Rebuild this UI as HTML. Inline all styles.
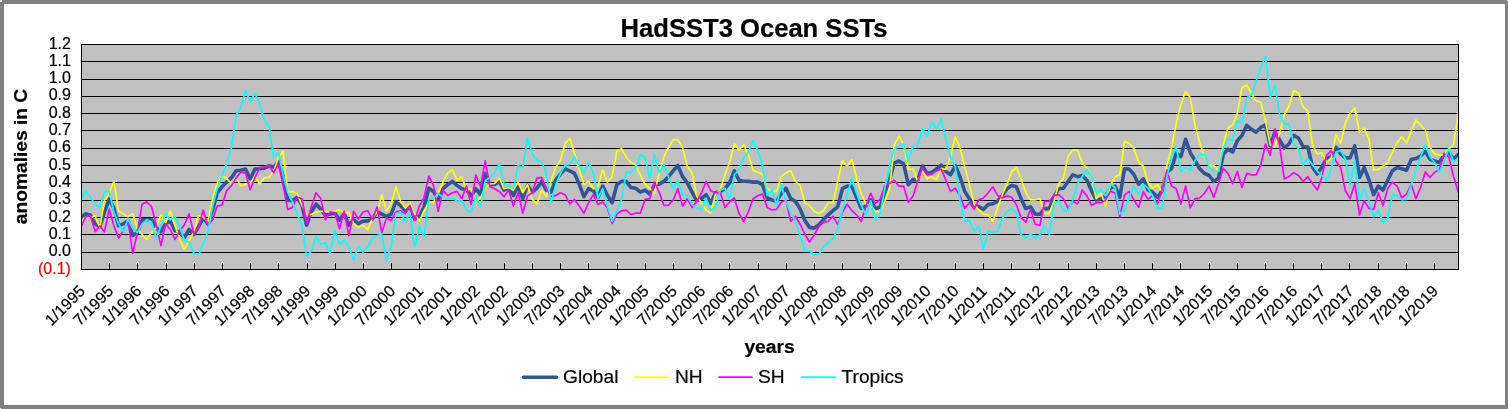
<!DOCTYPE html>
<html><head><meta charset="utf-8"><title>HadSST3 Ocean SSTs</title>
<style>
html,body{margin:0;padding:0;background:#fff;}
body{width:1508px;height:409px;overflow:hidden;position:relative;}
svg{position:absolute;left:0;top:0;display:block;}
text{font-family:"Liberation Sans",sans-serif;fill:#000;stroke:#000;stroke-width:0.22px;paint-order:stroke;}
.b{font-weight:bold;}
</style></head><body>
<svg width="1508" height="409" viewBox="0 0 1508 409">

<rect x="0" y="0" width="1508" height="409" fill="#808080"/>
<rect x="4" y="4" width="1501" height="401" fill="#fff"/>
<rect x="0" y="0" width="2" height="2" fill="#fff"/><rect x="1507" y="0" width="1" height="1" fill="#fff"/><rect x="0" y="408" width="1" height="1" fill="#fff"/>
<rect x="81" y="44" width="1378" height="226" fill="#c0c0c0"/>
<line x1="81" y1="61.5" x2="1459" y2="61.5" stroke="#000" stroke-width="1"/>
<line x1="81" y1="79.5" x2="1459" y2="79.5" stroke="#000" stroke-width="1"/>
<line x1="81" y1="96.5" x2="1459" y2="96.5" stroke="#000" stroke-width="1"/>
<line x1="81" y1="113.5" x2="1459" y2="113.5" stroke="#000" stroke-width="1"/>
<line x1="81" y1="130.5" x2="1459" y2="130.5" stroke="#000" stroke-width="1"/>
<line x1="81" y1="148.5" x2="1459" y2="148.5" stroke="#000" stroke-width="1"/>
<line x1="81" y1="165.5" x2="1459" y2="165.5" stroke="#000" stroke-width="1"/>
<line x1="81" y1="182.5" x2="1459" y2="182.5" stroke="#000" stroke-width="1"/>
<line x1="81" y1="200.5" x2="1459" y2="200.5" stroke="#000" stroke-width="1"/>
<line x1="81" y1="217.5" x2="1459" y2="217.5" stroke="#000" stroke-width="1"/>
<line x1="81" y1="234.5" x2="1459" y2="234.5" stroke="#000" stroke-width="1"/>
<line x1="81" y1="252.5" x2="1459" y2="252.5" stroke="#000" stroke-width="1"/>
<line x1="81.5" y1="263" x2="81.5" y2="269" stroke="#000" stroke-width="1"/>
<line x1="109.5" y1="263" x2="109.5" y2="269" stroke="#000" stroke-width="1"/>
<line x1="137.5" y1="263" x2="137.5" y2="269" stroke="#000" stroke-width="1"/>
<line x1="166.5" y1="263" x2="166.5" y2="269" stroke="#000" stroke-width="1"/>
<line x1="194.5" y1="263" x2="194.5" y2="269" stroke="#000" stroke-width="1"/>
<line x1="222.5" y1="263" x2="222.5" y2="269" stroke="#000" stroke-width="1"/>
<line x1="250.5" y1="263" x2="250.5" y2="269" stroke="#000" stroke-width="1"/>
<line x1="278.5" y1="263" x2="278.5" y2="269" stroke="#000" stroke-width="1"/>
<line x1="307.5" y1="263" x2="307.5" y2="269" stroke="#000" stroke-width="1"/>
<line x1="335.5" y1="263" x2="335.5" y2="269" stroke="#000" stroke-width="1"/>
<line x1="363.5" y1="263" x2="363.5" y2="269" stroke="#000" stroke-width="1"/>
<line x1="391.5" y1="263" x2="391.5" y2="269" stroke="#000" stroke-width="1"/>
<line x1="419.5" y1="263" x2="419.5" y2="269" stroke="#000" stroke-width="1"/>
<line x1="447.5" y1="263" x2="447.5" y2="269" stroke="#000" stroke-width="1"/>
<line x1="476.5" y1="263" x2="476.5" y2="269" stroke="#000" stroke-width="1"/>
<line x1="504.5" y1="263" x2="504.5" y2="269" stroke="#000" stroke-width="1"/>
<line x1="532.5" y1="263" x2="532.5" y2="269" stroke="#000" stroke-width="1"/>
<line x1="560.5" y1="263" x2="560.5" y2="269" stroke="#000" stroke-width="1"/>
<line x1="588.5" y1="263" x2="588.5" y2="269" stroke="#000" stroke-width="1"/>
<line x1="617.5" y1="263" x2="617.5" y2="269" stroke="#000" stroke-width="1"/>
<line x1="645.5" y1="263" x2="645.5" y2="269" stroke="#000" stroke-width="1"/>
<line x1="673.5" y1="263" x2="673.5" y2="269" stroke="#000" stroke-width="1"/>
<line x1="701.5" y1="263" x2="701.5" y2="269" stroke="#000" stroke-width="1"/>
<line x1="729.5" y1="263" x2="729.5" y2="269" stroke="#000" stroke-width="1"/>
<line x1="758.5" y1="263" x2="758.5" y2="269" stroke="#000" stroke-width="1"/>
<line x1="786.5" y1="263" x2="786.5" y2="269" stroke="#000" stroke-width="1"/>
<line x1="814.5" y1="263" x2="814.5" y2="269" stroke="#000" stroke-width="1"/>
<line x1="842.5" y1="263" x2="842.5" y2="269" stroke="#000" stroke-width="1"/>
<line x1="870.5" y1="263" x2="870.5" y2="269" stroke="#000" stroke-width="1"/>
<line x1="898.5" y1="263" x2="898.5" y2="269" stroke="#000" stroke-width="1"/>
<line x1="927.5" y1="263" x2="927.5" y2="269" stroke="#000" stroke-width="1"/>
<line x1="955.5" y1="263" x2="955.5" y2="269" stroke="#000" stroke-width="1"/>
<line x1="983.5" y1="263" x2="983.5" y2="269" stroke="#000" stroke-width="1"/>
<line x1="1011.5" y1="263" x2="1011.5" y2="269" stroke="#000" stroke-width="1"/>
<line x1="1039.5" y1="263" x2="1039.5" y2="269" stroke="#000" stroke-width="1"/>
<line x1="1068.5" y1="263" x2="1068.5" y2="269" stroke="#000" stroke-width="1"/>
<line x1="1096.5" y1="263" x2="1096.5" y2="269" stroke="#000" stroke-width="1"/>
<line x1="1124.5" y1="263" x2="1124.5" y2="269" stroke="#000" stroke-width="1"/>
<line x1="1152.5" y1="263" x2="1152.5" y2="269" stroke="#000" stroke-width="1"/>
<line x1="1180.5" y1="263" x2="1180.5" y2="269" stroke="#000" stroke-width="1"/>
<line x1="1209.5" y1="263" x2="1209.5" y2="269" stroke="#000" stroke-width="1"/>
<line x1="1237.5" y1="263" x2="1237.5" y2="269" stroke="#000" stroke-width="1"/>
<line x1="1265.5" y1="263" x2="1265.5" y2="269" stroke="#000" stroke-width="1"/>
<line x1="1293.5" y1="263" x2="1293.5" y2="269" stroke="#000" stroke-width="1"/>
<line x1="1321.5" y1="263" x2="1321.5" y2="269" stroke="#000" stroke-width="1"/>
<line x1="1349.5" y1="263" x2="1349.5" y2="269" stroke="#000" stroke-width="1"/>
<line x1="1378.5" y1="263" x2="1378.5" y2="269" stroke="#000" stroke-width="1"/>
<line x1="1406.5" y1="263" x2="1406.5" y2="269" stroke="#000" stroke-width="1"/>
<line x1="1434.5" y1="263" x2="1434.5" y2="269" stroke="#000" stroke-width="1"/>
<defs><clipPath id="pc"><rect x="81.5" y="44.5" width="1377" height="225"/></clipPath></defs><g clip-path="url(#pc)">
<polyline points="81.0,217.9 85.7,213.9 90.4,215.0 95.1,223.8 99.8,226.7 104.5,212.0 109.2,199.2 113.9,208.1 118.6,225.7 123.3,223.8 128.0,220.9 132.7,235.4 137.4,232.5 142.1,219.8 146.8,219.5 151.5,219.8 156.2,227.6 160.9,231.6 165.6,223.8 170.3,220.9 175.0,230.6 179.7,232.5 184.4,237.5 189.1,229.5 193.8,234.5 198.5,226.7 203.2,217.9 207.9,223.8 212.6,210.0 217.3,192.5 222.0,186.8 226.7,181.9 231.4,177.9 236.1,170.8 240.8,170.2 245.5,169.1 250.2,179.0 254.9,169.1 259.6,168.8 264.3,168.2 269.0,165.8 273.7,167.2 278.4,161.3 283.1,176.0 287.8,200.1 292.5,200.6 297.2,197.2 301.9,205.1 306.6,225.2 311.3,212.0 316.0,204.1 320.7,209.1 325.4,215.2 330.1,214.1 334.8,213.1 339.5,220.2 344.2,213.6 348.9,225.2 353.6,219.7 358.3,223.6 363.0,221.2 367.7,220.9 372.4,219.1 377.1,211.5 381.8,214.1 386.5,216.5 391.2,214.1 395.9,201.7 400.6,205.6 405.3,210.7 410.0,206.2 414.7,219.1 419.4,216.2 424.1,206.7 428.8,188.2 433.5,191.4 438.2,199.9 442.9,188.7 447.6,184.7 452.3,181.4 457.0,185.4 461.7,188.7 466.4,189.4 471.1,195.9 475.8,188.7 480.5,194.7 485.2,173.4 489.9,184.7 494.6,184.5 499.3,181.4 504.0,190.1 508.7,188.2 513.4,195.4 518.1,186.1 522.8,198.7 527.5,185.4 532.2,192.1 536.9,188.2 541.6,181.4 546.3,190.1 551.0,192.1 555.7,180.2 560.4,174.1 565.1,168.8 569.8,170.8 574.5,173.4 579.2,184.2 583.9,196.6 588.6,188.7 593.3,190.8 598.0,197.3 602.7,186.1 607.4,195.4 612.1,202.7 616.8,184.7 621.5,181.4 626.2,181.4 630.9,187.5 635.6,188.2 640.3,192.1 645.0,190.1 649.7,194.0 654.4,184.7 659.1,184.2 663.8,181.4 668.5,176.7 673.2,170.8 677.9,165.5 682.6,176.7 687.3,182.8 692.0,192.1 696.7,200.6 701.4,198.7 706.1,194.7 710.8,203.4 715.5,192.7 720.2,191.4 724.9,188.7 729.6,182.8 734.3,170.8 739.0,180.2 743.7,181.2 748.4,181.4 753.1,182.1 757.8,182.1 762.5,184.7 767.2,198.0 771.9,199.9 776.6,201.3 781.3,193.3 786.0,188.2 790.7,198.7 795.4,201.3 800.1,208.9 804.8,220.2 809.5,227.4 814.2,228.1 818.9,224.7 823.6,219.5 828.3,214.8 833.0,210.5 837.7,206.8 842.4,188.7 847.1,186.1 851.8,186.1 856.5,197.3 861.2,208.4 866.0,206.0 870.7,199.9 875.4,208.9 880.1,206.8 884.8,192.1 889.5,180.2 894.2,163.1 898.9,161.0 903.6,163.9 908.3,184.7 913.0,179.5 917.7,180.2 922.4,166.0 927.1,173.4 931.8,172.2 936.5,169.1 941.2,165.1 945.9,171.5 950.6,174.8 955.3,165.7 960.0,176.7 964.7,191.4 969.4,198.7 974.1,205.3 978.8,206.7 983.5,209.3 988.2,204.6 992.9,203.7 997.6,201.3 1002.3,195.4 1007.0,188.7 1011.7,185.4 1016.4,186.8 1021.1,198.7 1025.8,208.6 1030.5,206.7 1035.2,214.1 1039.9,214.3 1044.6,208.6 1049.3,208.6 1054.0,196.6 1058.7,188.7 1063.4,188.2 1068.1,181.4 1072.8,174.8 1077.5,176.7 1082.2,175.5 1086.9,180.2 1091.6,190.8 1096.3,199.9 1101.0,198.7 1105.7,195.9 1110.4,188.2 1115.1,186.1 1119.8,197.3 1124.5,168.8 1129.2,169.1 1133.9,174.5 1138.6,184.2 1143.3,178.8 1148.0,190.1 1152.7,192.1 1157.4,197.3 1162.1,190.8 1166.8,172.2 1171.5,168.8 1176.2,153.2 1180.9,156.7 1185.6,139.3 1190.3,152.7 1195.0,160.5 1199.7,168.8 1204.4,173.4 1209.1,175.5 1213.8,181.4 1218.5,178.1 1223.2,154.6 1227.9,149.2 1232.6,152.0 1237.3,140.7 1242.0,135.4 1246.7,125.3 1251.4,129.3 1256.1,132.1 1260.8,127.4 1265.5,124.8 1270.2,145.9 1274.9,132.1 1279.6,140.0 1284.3,148.0 1289.0,144.0 1293.7,135.4 1298.4,138.0 1303.1,146.6 1307.8,147.0 1312.5,167.0 1317.2,174.1 1321.9,166.9 1326.6,158.6 1331.3,156.7 1336.0,147.3 1340.7,153.9 1345.4,157.9 1350.1,157.9 1354.8,145.9 1359.5,177.4 1364.2,167.6 1368.9,179.5 1373.6,194.7 1378.3,186.1 1383.0,190.1 1387.7,180.2 1392.4,170.8 1397.1,167.6 1401.8,168.8 1406.5,170.2 1411.2,159.6 1415.9,158.6 1420.6,156.0 1425.3,151.3 1430.0,159.2 1434.7,161.0 1439.4,162.4 1444.1,154.6 1448.8,152.0 1453.5,159.2 1458.2,154.6" fill="none" stroke="#305699" stroke-width="3.6" stroke-linejoin="round" stroke-linecap="round"/>
<polyline points="81.0,220.9 85.7,216.9 90.4,217.9 95.1,215.8 99.8,227.6 104.5,200.3 109.2,193.3 113.9,181.2 118.6,211.0 123.3,213.9 128.0,216.9 132.7,213.6 137.4,228.7 142.1,234.5 146.8,239.4 151.5,232.5 156.2,227.6 160.9,215.0 165.6,222.8 170.3,211.0 175.0,225.7 179.7,239.4 184.4,249.1 189.1,240.4 193.8,232.5 198.5,215.8 203.2,216.9 207.9,221.7 212.6,198.5 217.3,183.0 222.0,176.0 226.7,178.6 231.4,183.8 236.1,177.9 240.8,185.7 245.5,184.5 250.2,183.0 254.9,177.1 259.6,183.8 264.3,177.9 269.0,177.4 273.7,171.2 278.4,157.5 283.1,151.1 287.8,192.0 292.5,191.6 297.2,193.5 301.9,205.1 306.6,214.1 311.3,214.6 316.0,212.0 320.7,211.3 325.4,211.3 330.1,212.0 334.8,211.3 339.5,209.6 344.2,212.6 348.9,212.6 353.6,223.6 358.3,227.6 363.0,225.2 367.7,229.7 372.4,218.6 377.1,212.0 381.8,195.1 386.5,211.3 391.2,204.1 395.9,186.8 400.6,201.1 405.3,208.1 410.0,203.0 414.7,214.1 419.4,221.0 424.1,210.7 428.8,202.3 433.5,202.3 438.2,193.3 442.9,182.1 447.6,173.4 452.3,169.3 457.0,180.2 461.7,176.7 466.4,190.1 471.1,188.7 475.8,202.0 480.5,197.3 485.2,188.7 489.9,183.8 494.6,183.5 499.3,178.1 504.0,188.7 508.7,187.5 513.4,190.1 518.1,182.1 522.8,192.7 527.5,184.7 532.2,199.4 536.9,203.9 541.6,190.1 546.3,196.6 551.0,181.4 555.7,166.9 560.4,160.5 565.1,143.3 569.8,138.5 574.5,153.2 579.2,169.5 583.9,184.2 588.6,181.4 593.3,188.7 598.0,186.1 602.7,169.5 607.4,182.1 612.1,176.7 616.8,151.3 621.5,148.7 626.2,157.2 630.9,162.5 635.6,164.8 640.3,174.8 645.0,184.2 649.7,188.2 654.4,193.3 659.1,173.4 663.8,157.2 668.5,147.3 673.2,139.7 677.9,139.7 682.6,148.0 687.3,166.2 692.0,172.7 696.7,195.9 701.4,202.7 706.1,210.0 710.8,213.2 715.5,194.0 720.2,189.4 724.9,174.8 729.6,162.5 734.3,143.7 739.0,149.9 743.7,144.7 748.4,155.3 753.1,170.2 757.8,172.2 762.5,174.1 767.2,188.2 771.9,191.4 776.6,191.4 781.3,176.7 786.0,172.7 790.7,170.5 795.4,181.4 800.1,185.4 804.8,202.7 809.5,205.5 814.2,211.3 818.9,213.8 823.6,210.5 828.3,202.7 833.0,202.7 837.7,181.4 842.4,160.8 847.1,166.2 851.8,159.6 856.5,177.4 861.2,193.3 866.0,203.9 870.7,205.5 875.4,211.2 880.1,212.2 884.8,201.3 889.5,189.4 894.2,145.2 898.9,136.1 903.6,144.7 908.3,169.5 913.0,168.8 917.7,181.4 922.4,170.8 927.1,178.8 931.8,176.7 936.5,179.5 941.2,168.4 945.9,169.5 950.6,156.0 955.3,136.8 960.0,147.3 964.7,166.7 969.4,184.2 974.1,203.9 978.8,210.0 983.5,214.1 988.2,214.8 992.9,221.4 997.6,207.7 1002.3,194.7 1007.0,184.2 1011.7,171.5 1016.4,167.6 1021.1,178.8 1025.8,192.7 1030.5,199.9 1035.2,199.9 1039.9,198.7 1044.6,213.4 1049.3,213.4 1054.0,201.3 1058.7,183.5 1063.4,178.8 1068.1,156.0 1072.8,149.9 1077.5,149.9 1082.2,162.9 1086.9,168.2 1091.6,178.1 1096.3,198.7 1101.0,193.3 1105.7,206.0 1110.4,184.7 1115.1,176.7 1119.8,174.8 1124.5,141.4 1129.2,143.3 1133.9,148.7 1138.6,162.0 1143.3,166.2 1148.0,182.8 1152.7,188.2 1157.4,184.7 1162.1,191.4 1166.8,165.7 1171.5,148.0 1176.2,123.4 1180.9,104.2 1185.6,91.4 1190.3,97.8 1195.0,124.8 1199.7,142.6 1204.4,157.2 1209.1,165.7 1213.8,165.7 1218.5,170.8 1223.2,145.2 1227.9,128.1 1232.6,124.8 1237.3,113.7 1242.0,87.4 1246.7,85.2 1251.4,93.3 1256.1,100.9 1260.8,102.3 1265.5,121.3 1270.2,144.7 1274.9,147.3 1279.6,133.3 1284.3,114.8 1289.0,105.9 1293.7,90.5 1298.4,93.0 1303.1,106.8 1307.8,111.1 1312.5,144.7 1317.2,153.9 1321.9,152.7 1326.6,161.8 1331.3,157.9 1336.0,134.7 1340.7,143.3 1345.4,122.7 1350.1,113.7 1354.8,107.7 1359.5,132.1 1364.2,128.1 1368.9,138.7 1373.6,170.2 1378.3,169.5 1383.0,166.0 1387.7,162.4 1392.4,152.7 1397.1,142.6 1401.8,136.8 1406.5,143.3 1411.2,131.4 1415.9,120.1 1420.6,124.8 1425.3,130.0 1430.0,147.3 1434.7,153.9 1439.4,155.3 1444.1,154.6 1448.8,148.7 1453.5,145.2 1458.2,113.7" fill="none" stroke="#ffff00" stroke-width="1.7" stroke-linejoin="round" stroke-linecap="round"/>
<polyline points="81.0,226.7 85.7,216.9 90.4,215.5 95.1,231.6 99.8,225.7 104.5,231.9 109.2,209.1 113.9,225.7 118.6,238.0 123.3,230.6 128.0,219.8 132.7,253.4 137.4,232.5 142.1,204.2 146.8,201.8 151.5,206.5 156.2,224.7 160.9,245.6 165.6,223.8 170.3,229.5 175.0,239.4 179.7,230.6 184.4,224.7 189.1,213.9 193.8,233.8 198.5,227.6 203.2,210.0 207.9,225.7 212.6,219.8 217.3,205.8 222.0,205.1 226.7,190.6 231.4,185.7 236.1,177.9 240.8,172.1 245.5,173.1 250.2,189.7 254.9,177.9 259.6,167.6 264.3,167.2 269.0,165.8 273.7,172.7 278.4,163.2 283.1,185.7 287.8,209.6 292.5,207.2 297.2,197.2 301.9,198.5 306.6,223.6 311.3,206.7 316.0,192.8 320.7,198.5 325.4,219.7 330.1,211.9 334.8,212.6 339.5,228.7 344.2,211.3 348.9,235.9 353.6,211.3 358.3,219.1 363.0,212.0 367.7,210.7 372.4,219.7 377.1,206.7 381.8,232.5 386.5,218.1 391.2,220.7 395.9,212.0 400.6,210.7 405.3,213.6 410.0,205.5 414.7,220.2 419.4,206.0 424.1,197.3 428.8,176.0 433.5,185.4 438.2,211.3 442.9,190.1 447.6,195.4 452.3,192.7 457.0,191.4 461.7,198.7 466.4,186.1 471.1,204.6 475.8,174.8 480.5,186.8 485.2,160.8 489.9,186.8 494.6,188.7 499.3,191.4 504.0,196.6 508.7,190.1 513.4,206.0 518.1,192.7 522.8,213.2 527.5,195.9 532.2,192.7 536.9,178.1 541.6,177.4 546.3,188.7 551.0,196.6 555.7,195.4 560.4,192.7 565.1,194.7 569.8,203.9 574.5,199.4 579.2,206.0 583.9,213.4 588.6,202.7 593.3,194.7 598.0,204.6 602.7,202.0 607.4,207.9 612.1,223.5 616.8,214.1 621.5,210.8 626.2,210.1 630.9,214.5 635.6,213.2 640.3,213.2 645.0,199.4 649.7,198.7 654.4,182.1 659.1,192.1 663.8,205.3 668.5,205.1 673.2,199.9 677.9,188.7 682.6,206.0 687.3,198.7 692.0,207.4 696.7,201.3 701.4,193.3 706.1,181.4 710.8,190.8 715.5,192.7 720.2,192.1 724.9,207.4 729.6,202.0 734.3,198.0 739.0,213.4 743.7,221.6 748.4,211.5 753.1,198.7 757.8,195.8 762.5,194.0 767.2,207.4 771.9,210.0 776.6,209.3 781.3,202.0 786.0,200.3 790.7,221.4 795.4,216.2 800.1,224.2 804.8,234.0 809.5,242.0 814.2,234.7 818.9,226.7 823.6,222.1 828.3,221.4 833.0,216.2 837.7,224.7 842.4,212.2 847.1,204.1 851.8,210.5 856.5,214.8 861.2,221.4 866.0,206.0 870.7,193.3 875.4,203.4 880.1,199.4 884.8,185.4 889.5,183.5 894.2,180.2 898.9,186.1 903.6,186.1 908.3,202.3 913.0,195.9 917.7,181.4 922.4,168.2 927.1,174.8 931.8,174.1 936.5,170.8 941.2,169.1 945.9,180.2 950.6,191.4 955.3,188.2 960.0,195.9 964.7,208.1 969.4,202.7 974.1,209.3 978.8,199.9 983.5,198.0 988.2,192.7 992.9,186.8 997.6,195.4 1002.3,198.0 1007.0,195.9 1011.7,197.3 1016.4,204.8 1021.1,217.6 1025.8,222.1 1030.5,209.3 1035.2,224.2 1039.9,225.4 1044.6,201.3 1049.3,201.3 1054.0,195.4 1058.7,194.7 1063.4,198.7 1068.1,208.4 1072.8,201.3 1077.5,203.9 1082.2,190.1 1086.9,195.9 1091.6,205.3 1096.3,202.7 1101.0,202.7 1105.7,199.9 1110.4,191.4 1115.1,192.7 1119.8,216.7 1124.5,195.1 1129.2,191.4 1133.9,199.8 1138.6,207.4 1143.3,191.4 1148.0,199.4 1152.7,195.4 1157.4,203.9 1162.1,190.1 1166.8,170.2 1171.5,186.1 1176.2,188.7 1180.9,203.9 1185.6,186.1 1190.3,207.9 1195.0,198.7 1199.7,198.0 1204.4,193.3 1209.1,186.1 1213.8,197.3 1218.5,183.5 1223.2,168.2 1227.9,173.4 1232.6,183.5 1237.3,171.5 1242.0,187.5 1246.7,173.4 1251.4,174.8 1256.1,174.8 1260.8,164.8 1265.5,144.0 1270.2,155.3 1274.9,128.8 1279.6,145.2 1284.3,178.8 1289.0,176.7 1293.7,172.7 1298.4,175.5 1303.1,181.4 1307.8,176.7 1312.5,183.5 1317.2,190.1 1321.9,177.4 1326.6,155.3 1331.3,150.6 1336.0,161.2 1340.7,167.6 1345.4,190.8 1350.1,198.7 1354.8,183.5 1359.5,215.0 1364.2,200.6 1368.9,208.4 1373.6,209.4 1378.3,192.7 1383.0,205.8 1387.7,188.7 1392.4,182.1 1397.1,186.1 1401.8,198.0 1406.5,194.0 1411.2,184.2 1415.9,198.7 1420.6,187.5 1425.3,171.9 1430.0,177.4 1434.7,172.2 1439.4,169.5 1444.1,153.5 1448.8,157.0 1453.5,176.2 1458.2,192.0" fill="none" stroke="#ff00ff" stroke-width="1.7" stroke-linejoin="round" stroke-linecap="round"/>
<polyline points="81.0,200.3 85.7,190.4 90.4,197.3 95.1,204.2 99.8,207.7 104.5,191.4 109.2,191.4 113.9,212.0 118.6,223.8 123.3,231.6 128.0,218.8 132.7,228.7 137.4,232.5 142.1,223.8 146.8,219.8 151.5,221.7 156.2,238.3 160.9,225.7 165.6,213.9 170.3,219.8 175.0,216.9 179.7,226.7 184.4,240.4 189.1,242.3 193.8,253.4 198.5,255.0 203.2,243.4 207.9,231.6 212.6,206.2 217.3,188.2 222.0,176.0 226.7,163.4 231.4,147.7 236.1,115.5 240.8,107.5 245.5,90.5 250.2,101.6 254.9,93.1 259.6,103.7 264.3,120.3 269.0,127.1 273.7,157.5 278.4,152.5 283.1,175.0 287.8,192.5 292.5,202.2 297.2,213.9 301.9,225.7 306.6,256.0 311.3,251.2 316.0,236.4 320.7,244.2 325.4,242.8 330.1,253.1 334.8,230.6 339.5,244.2 344.2,240.4 348.9,247.2 353.6,260.0 358.3,246.3 363.0,252.2 367.7,247.2 372.4,238.3 377.1,235.4 381.8,234.5 386.5,260.8 391.2,245.3 395.9,213.9 400.6,212.0 405.3,221.7 410.0,212.9 414.7,247.2 419.4,226.7 424.1,236.4 428.8,199.4 433.5,198.7 438.2,193.3 442.9,197.3 447.6,199.4 452.3,198.0 457.0,201.3 461.7,200.3 466.4,210.0 471.1,212.0 475.8,195.9 480.5,207.2 485.2,180.7 489.9,177.4 494.6,172.7 499.3,163.6 504.0,184.0 508.7,186.1 513.4,188.2 518.1,165.7 522.8,167.4 527.5,137.6 532.2,153.9 536.9,160.5 541.6,161.8 546.3,173.4 551.0,202.7 555.7,185.4 560.4,173.4 565.1,165.1 569.8,164.4 574.5,156.7 579.2,166.5 583.9,172.7 588.6,162.2 593.3,173.4 598.0,198.0 602.7,188.7 607.4,206.0 612.1,221.4 616.8,210.7 621.5,199.9 626.2,172.2 630.9,172.7 635.6,167.7 640.3,154.6 645.0,157.2 649.7,178.1 654.4,154.6 659.1,172.7 663.8,165.1 668.5,176.7 673.2,188.2 677.9,180.2 682.6,194.7 687.3,195.9 692.0,204.6 696.7,207.9 701.4,210.0 706.1,198.0 710.8,210.7 715.5,207.4 720.2,190.1 724.9,188.2 729.6,199.4 734.3,174.8 739.0,169.5 743.7,157.9 748.4,152.0 753.1,140.7 757.8,150.6 762.5,165.7 767.2,195.4 771.9,190.1 776.6,204.6 781.3,184.7 786.0,202.0 790.7,213.2 795.4,221.4 800.1,235.4 804.8,250.6 809.5,250.8 814.2,254.8 818.9,254.6 823.6,246.7 828.3,242.7 833.0,238.7 837.7,228.7 842.4,209.8 847.1,194.7 851.8,178.8 856.5,193.3 861.2,205.3 866.0,215.5 870.7,200.6 875.4,219.5 880.1,213.9 884.8,188.7 889.5,165.7 894.2,148.7 898.9,146.6 903.6,143.7 908.3,161.2 913.0,145.9 917.7,145.9 922.4,128.8 927.1,136.2 931.8,121.7 936.5,129.1 941.2,119.1 945.9,139.3 950.6,157.2 955.3,166.9 960.0,200.3 964.7,221.4 969.4,220.7 974.1,231.4 978.8,226.1 983.5,248.6 988.2,230.7 992.9,232.6 997.6,231.4 1002.3,218.4 1007.0,211.7 1011.7,208.9 1016.4,212.4 1021.1,234.7 1025.8,238.3 1030.5,234.0 1035.2,238.0 1039.9,234.7 1044.6,226.1 1049.3,234.7 1054.0,203.7 1058.7,200.6 1063.4,210.7 1068.1,210.3 1072.8,199.9 1077.5,183.5 1082.2,176.7 1086.9,169.5 1091.6,177.4 1096.3,193.3 1101.0,189.4 1105.7,195.9 1110.4,184.2 1115.1,187.5 1119.8,214.1 1124.5,210.0 1129.2,196.6 1133.9,186.4 1138.6,194.0 1143.3,184.2 1148.0,188.2 1152.7,195.9 1157.4,207.9 1162.1,207.9 1166.8,177.4 1171.5,157.2 1176.2,147.0 1180.9,171.5 1185.6,167.6 1190.3,170.2 1195.0,160.5 1199.7,154.6 1204.4,154.6 1209.1,166.9 1213.8,171.5 1218.5,171.5 1223.2,148.0 1227.9,139.3 1232.6,140.0 1237.3,120.8 1242.0,123.4 1246.7,97.8 1251.4,95.0 1256.1,81.5 1260.8,67.0 1265.5,56.3 1270.2,97.8 1274.9,84.7 1279.6,113.7 1284.3,124.1 1289.0,124.1 1293.7,143.3 1298.4,148.7 1303.1,165.3 1307.8,158.6 1312.5,164.8 1317.2,171.2 1321.9,175.5 1326.6,180.2 1331.3,168.2 1336.0,152.0 1340.7,150.6 1345.4,158.7 1350.1,184.7 1354.8,159.9 1359.5,199.9 1364.2,188.7 1368.9,200.8 1373.6,216.7 1378.3,210.3 1383.0,222.9 1387.7,218.4 1392.4,194.4 1397.1,195.9 1401.8,199.9 1406.5,199.4 1411.2,184.7 1415.9,170.2 1420.6,156.7 1425.3,144.7 1430.0,156.7 1434.7,162.5 1439.4,172.7 1444.1,160.5 1448.8,148.7 1453.5,161.8 1458.2,157.9" fill="none" stroke="#00ffff" stroke-width="1.7" stroke-linejoin="round" stroke-linecap="round"/>
</g>
<rect x="81.5" y="44.5" width="1377" height="225" fill="none" stroke="#000" stroke-width="1"/>
<text x="70.9" y="49.4" font-size="16" text-anchor="end">1.2</text>
<text x="70.9" y="66.4" font-size="16" text-anchor="end">1.1</text>
<text x="70.9" y="83.4" font-size="16" text-anchor="end">1.0</text>
<text x="70.9" y="100.4" font-size="16" text-anchor="end">0.9</text>
<text x="70.9" y="118.2" font-size="16" text-anchor="end">0.8</text>
<text x="70.9" y="135.2" font-size="16" text-anchor="end">0.7</text>
<text x="70.9" y="152.4" font-size="16" text-anchor="end">0.6</text>
<text x="70.9" y="170.1" font-size="16" text-anchor="end">0.5</text>
<text x="70.9" y="187.4" font-size="16" text-anchor="end">0.4</text>
<text x="70.9" y="204.4" font-size="16" text-anchor="end">0.3</text>
<text x="70.9" y="221.8" font-size="16" text-anchor="end">0.2</text>
<text x="70.9" y="239.3" font-size="16" text-anchor="end">0.1</text>
<text x="70.9" y="256.4" font-size="16" text-anchor="end">0.0</text>
<text x="70.9" y="273.8" font-size="16" text-anchor="end" style="fill:#ff0000;stroke:#ff0000">(0.1)</text>
<text font-size="16" text-anchor="end" transform="translate(86.1,292.0) rotate(-45)">1/1995</text>
<text font-size="16" text-anchor="end" transform="translate(114.3,292.0) rotate(-45)">7/1995</text>
<text font-size="16" text-anchor="end" transform="translate(142.5,292.0) rotate(-45)">1/1996</text>
<text font-size="16" text-anchor="end" transform="translate(170.7,292.0) rotate(-45)">7/1996</text>
<text font-size="16" text-anchor="end" transform="translate(198.9,292.0) rotate(-45)">1/1997</text>
<text font-size="16" text-anchor="end" transform="translate(227.0,292.0) rotate(-45)">7/1997</text>
<text font-size="16" text-anchor="end" transform="translate(255.2,292.0) rotate(-45)">1/1998</text>
<text font-size="16" text-anchor="end" transform="translate(283.4,292.0) rotate(-45)">7/1998</text>
<text font-size="16" text-anchor="end" transform="translate(311.6,292.0) rotate(-45)">1/1999</text>
<text font-size="16" text-anchor="end" transform="translate(339.8,292.0) rotate(-45)">7/1999</text>
<text font-size="16" text-anchor="end" transform="translate(368.0,292.0) rotate(-45)">1/2000</text>
<text font-size="16" text-anchor="end" transform="translate(396.2,292.0) rotate(-45)">7/2000</text>
<text font-size="16" text-anchor="end" transform="translate(424.4,292.0) rotate(-45)">1/2001</text>
<text font-size="16" text-anchor="end" transform="translate(452.5,292.0) rotate(-45)">7/2001</text>
<text font-size="16" text-anchor="end" transform="translate(480.7,292.0) rotate(-45)">1/2002</text>
<text font-size="16" text-anchor="end" transform="translate(508.9,292.0) rotate(-45)">7/2002</text>
<text font-size="16" text-anchor="end" transform="translate(537.1,292.0) rotate(-45)">1/2003</text>
<text font-size="16" text-anchor="end" transform="translate(565.3,292.0) rotate(-45)">7/2003</text>
<text font-size="16" text-anchor="end" transform="translate(593.5,292.0) rotate(-45)">1/2004</text>
<text font-size="16" text-anchor="end" transform="translate(621.7,292.0) rotate(-45)">7/2004</text>
<text font-size="16" text-anchor="end" transform="translate(649.9,292.0) rotate(-45)">1/2005</text>
<text font-size="16" text-anchor="end" transform="translate(678.0,292.0) rotate(-45)">7/2005</text>
<text font-size="16" text-anchor="end" transform="translate(706.2,292.0) rotate(-45)">1/2006</text>
<text font-size="16" text-anchor="end" transform="translate(734.4,292.0) rotate(-45)">7/2006</text>
<text font-size="16" text-anchor="end" transform="translate(762.6,292.0) rotate(-45)">1/2007</text>
<text font-size="16" text-anchor="end" transform="translate(790.8,292.0) rotate(-45)">7/2007</text>
<text font-size="16" text-anchor="end" transform="translate(819.0,292.0) rotate(-45)">1/2008</text>
<text font-size="16" text-anchor="end" transform="translate(847.2,292.0) rotate(-45)">7/2008</text>
<text font-size="16" text-anchor="end" transform="translate(875.4,292.0) rotate(-45)">1/2009</text>
<text font-size="16" text-anchor="end" transform="translate(903.6,292.0) rotate(-45)">7/2009</text>
<text font-size="16" text-anchor="end" transform="translate(931.7,292.0) rotate(-45)">1/2010</text>
<text font-size="16" text-anchor="end" transform="translate(959.9,292.0) rotate(-45)">7/2010</text>
<text font-size="16" text-anchor="end" transform="translate(988.1,292.0) rotate(-45)">1/2011</text>
<text font-size="16" text-anchor="end" transform="translate(1016.3,292.0) rotate(-45)">7/2011</text>
<text font-size="16" text-anchor="end" transform="translate(1044.5,292.0) rotate(-45)">1/2012</text>
<text font-size="16" text-anchor="end" transform="translate(1072.7,292.0) rotate(-45)">7/2012</text>
<text font-size="16" text-anchor="end" transform="translate(1100.9,292.0) rotate(-45)">1/2013</text>
<text font-size="16" text-anchor="end" transform="translate(1129.1,292.0) rotate(-45)">7/2013</text>
<text font-size="16" text-anchor="end" transform="translate(1157.2,292.0) rotate(-45)">1/2014</text>
<text font-size="16" text-anchor="end" transform="translate(1185.4,292.0) rotate(-45)">7/2014</text>
<text font-size="16" text-anchor="end" transform="translate(1213.6,292.0) rotate(-45)">1/2015</text>
<text font-size="16" text-anchor="end" transform="translate(1241.8,292.0) rotate(-45)">7/2015</text>
<text font-size="16" text-anchor="end" transform="translate(1270.0,292.0) rotate(-45)">1/2016</text>
<text font-size="16" text-anchor="end" transform="translate(1298.2,292.0) rotate(-45)">7/2016</text>
<text font-size="16" text-anchor="end" transform="translate(1326.4,292.0) rotate(-45)">1/2017</text>
<text font-size="16" text-anchor="end" transform="translate(1354.6,292.0) rotate(-45)">7/2017</text>
<text font-size="16" text-anchor="end" transform="translate(1382.7,292.0) rotate(-45)">1/2018</text>
<text font-size="16" text-anchor="end" transform="translate(1410.9,292.0) rotate(-45)">7/2018</text>
<text font-size="16" text-anchor="end" transform="translate(1439.1,292.0) rotate(-45)">1/2019</text>
<text class="b" x="754" y="37.1" font-size="25.6" text-anchor="middle">HadSST3 Ocean SSTs</text>
<text class="b" x="769.5" y="352.6" font-size="19.2" text-anchor="middle">years</text>
<text class="b" font-size="19.2" text-anchor="middle" transform="translate(27,156.5) rotate(-90)">anomalies in C</text>
<line x1="523.5" y1="377.2" x2="556.5" y2="377.2" stroke="#305699" stroke-width="3.6" stroke-linecap="round"/>
<text x="563" y="382.6" font-size="19.2">Global</text>
<line x1="635" y1="377.2" x2="668" y2="377.2" stroke="#ffff00" stroke-width="1.7" stroke-linecap="round"/>
<text x="675" y="382.6" font-size="19.2">NH</text>
<line x1="719" y1="377.2" x2="752" y2="377.2" stroke="#ff00ff" stroke-width="1.7" stroke-linecap="round"/>
<text x="758" y="382.6" font-size="19.2">SH</text>
<line x1="801.5" y1="377.2" x2="835" y2="377.2" stroke="#00ffff" stroke-width="1.7" stroke-linecap="round"/>
<text x="841.5" y="382.6" font-size="19.2">Tropics</text>
</svg></body></html>
